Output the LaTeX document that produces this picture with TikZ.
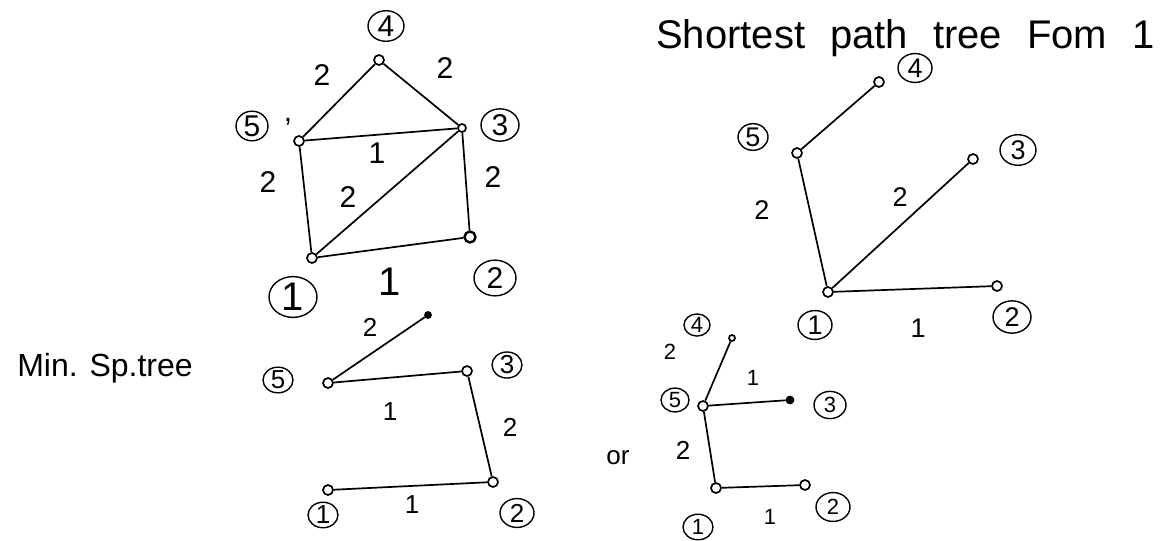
\documentclass[tikz,border=0pt]{standalone}
\usepackage{fontspec}
\setmainfont{Liberation Sans}
\usetikzlibrary{shapes.geometric}

\begin{document}
\begin{tikzpicture}[x=1pt, y=-1pt, line width=1.7pt,
  vtx/.style={draw, circle, fill=white, inner sep=0pt, minimum size=#1pt},
  vtx/.default=10,
  lbl/.style={draw, ellipse, line width=1.4pt, inner sep=0pt, minimum width=#1pt, minimum height=0.85*#1pt},
  lbl/.default=32,
  fs/.style={font=\fontsize{#1}{#1}\selectfont}]
\useasboundingbox (0,0) rectangle (1168,541);

% Graph: all edges
\begin{scope}[fs=30]
\node[vtx] (a4) at (379,60) {};
\node[vtx] (a5) at (299,141) {};
\node[vtx=8] (a3) at (462,128) {};
\node[vtx=11, line width=2.4pt] (a2) at (470,237) {};
\node[vtx] (a1) at (312,258) {};

\node[lbl=36] (la4) at (386,26) {4};
\node[lbl=32] (la5) at (252,126) {5};
\node (comma) at (288,122) {,};
\node[lbl=38] (la3) at (500,125) {3};
\node[lbl=42] (la2) at (495,278) {2};
\node[lbl=48, fs=40] (la1) at (293,297) {1};

\node (wa54) at (322,75) {2};
\node (wa43) at (445,68) {2};
\node (wa53) at (377,153) {1};
\node (wa51) at (268,182) {2};
\node (wa13) at (348,197) {2};
\node (wa32) at (493,177) {2};
\node[fs=40] (wa12) at (390,282) {1};

\draw (a5) -- (a4);
\draw (a4) -- (a3);
\draw (a5) -- (a3);
\draw (a5) -- (a1);
\draw (a1) -- (a3);
\draw (a3) -- (a2);
\draw (a1) -- (a2);
\end{scope}

% Shortest path tree
\node[fs=40, anchor=base west] (title) at (652,48)
  {Shortest\hspace{14pt} path\hspace{14pt} tree\hspace{14pt} Fom\hspace{14pt} 1};

\begin{scope}[fs=27]
\node[vtx] (b4) at (879,82) {};
\node[vtx] (b5) at (797,153) {};
\node[vtx] (b3) at (973,159) {};
\node[vtx] (b1) at (828,292) {};
\node[vtx] (b2) at (997,286) {};

\node[lbl=34] (lb4) at (915,68) {4};
\node[lbl=30] (lb5) at (753,137) {5};
\node[lbl=36] (lb3) at (1018,150) {3};
\node[lbl=34] (lb1) at (815,325) {1};
\node[lbl=38] (lb2) at (1012,317) {2};

\node (wb51) at (762,210) {2};
\node (wb13) at (900,197) {2};
\node (wb12) at (918,328) {1};

\draw (b5) -- (b4);
\draw (b5) -- (b1);
\draw (b1) -- (b3);
\draw (b1) -- (b2);
\end{scope}

% Min. spanning tree
\node[fs=32] (mst) at (105,368) {Min. Sp.tree};

\begin{scope}[fs=26]
\node[vtx=6, fill=black] (c4) at (428,315) {};
\node[vtx] (c5) at (328,383) {};
\node[vtx] (c3) at (467,371) {};
\node[vtx] (c2) at (493,482) {};
\node[vtx] (c1) at (328,490) {};

\node[lbl=30] (lc5) at (278,380) {5};
\node[lbl=30] (lc3) at (507,365) {3};
\node[lbl=30] (lc1) at (323,515) {1};
\node[lbl=34] (lc2) at (517,513) {2};

\node (wc54) at (370,327) {2};
\node (wc53) at (390,412) {1};
\node (wc32) at (510,427) {2};
\node (wc12) at (412,505) {1};

\draw (c5) -- (c4);
\draw (c5) -- (c3);
\draw (c3) -- (c2);
\draw (c1) -- (c2);
\end{scope}

% Other min. spanning tree
\begin{scope}[fs=22]
\node[vtx=6] (d4) at (732,338) {};
\node[vtx] (d5) at (703,406) {};
\node[vtx=7, fill=black] (d3) at (790,400) {};
\node[vtx] (d1) at (716,488) {};
\node[vtx] (d2) at (805,485) {};

\node[lbl=26] (ld4) at (697,325) {4};
\node[lbl=28] (ld5) at (675,400) {5};
\node[lbl=32] (ld3) at (830,405) {3};
\node[lbl=30] (ld1) at (698,527) {1};
\node[lbl=34] (ld2) at (833,507) {2};

\node (wd54) at (670,352) {2};
\node (wd53) at (753,378) {1};
\node[fs=26] (wd51) at (683,450) {2};
\node (wd12) at (770,517) {1};
\node[fs=26] (or) at (618,458) {or};

\draw (d5) -- (d4);
\draw (d5) -- (d3);
\draw (d5) -- (d1);
\draw (d1) -- (d2);
\end{scope}
\end{tikzpicture}
\end{document}
